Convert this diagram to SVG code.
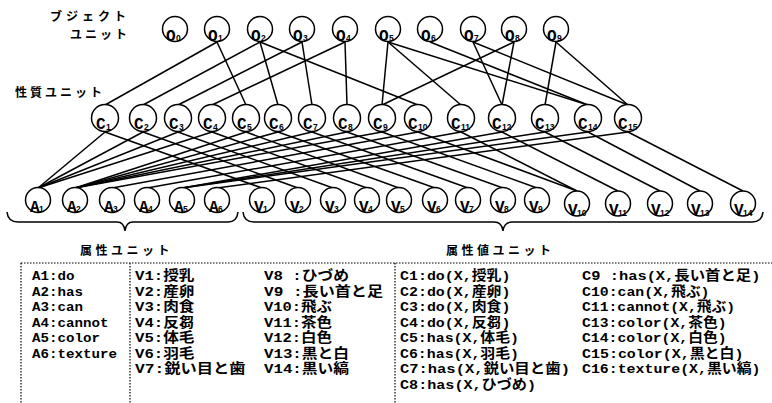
<svg xmlns="http://www.w3.org/2000/svg" width="772" height="403" viewBox="0 0 772 403">
<style>
.n circle{fill:#fff;stroke:#000;stroke-width:1.5}
.lb{font-family:"Liberation Mono",monospace;font-weight:bold;font-size:16px;fill:#000}
.sb{font-family:"Liberation Sans",sans-serif;font-weight:bold;font-size:8.5px;fill:#000}
.e line{stroke:#000;stroke-width:1.5}
.hd{font-family:"Noto Sans CJK JP",sans-serif;font-weight:bold;font-size:12px;fill:#000}
.br{fill:none;stroke:#000;stroke-width:1.5}
.dt{stroke:#000;stroke-width:1.2;stroke-dasharray:1.5 1.5;fill:none}
.tx{font-family:"Liberation Mono","Noto Sans CJK JP",monospace;font-weight:bold;font-size:13.5px;fill:#000}
</style>

<g id="labels">
<text class="hd" x="130" y="21" text-anchor="end" letter-spacing="4">ブジェクト</text>
<text class="hd" x="130" y="39" text-anchor="end" letter-spacing="3">ユニット</text>
<text class="hd" x="15" y="97" font-size="13" letter-spacing="3">性質ユニット</text>
<text class="hd" x="80" y="255" font-size="14" letter-spacing="3.5">属性ユニット</text>
<text class="hd" x="446" y="255" font-size="14" letter-spacing="3.5">属性値ユニット</text>
</g>

<g id="connectors" class="e">
<line x1="217" y1="42" x2="105" y2="105"/>
<line x1="217" y1="42" x2="246" y2="105"/>
<line x1="260" y1="42" x2="143" y2="105"/>
<line x1="260" y1="42" x2="278" y2="105"/>
<line x1="260" y1="42" x2="418" y2="105"/>
<line x1="302" y1="42" x2="178" y2="105"/>
<line x1="302" y1="42" x2="312" y2="105"/>
<line x1="345" y1="42" x2="212" y2="105"/>
<line x1="345" y1="42" x2="347" y2="105"/>
<line x1="388" y1="42" x2="382" y2="105"/>
<line x1="388" y1="42" x2="461" y2="105"/>
<line x1="388" y1="42" x2="588" y2="105"/>
<line x1="430" y1="42" x2="588" y2="105"/>
<line x1="473" y1="42" x2="502" y2="105"/>
<line x1="473" y1="42" x2="628" y2="105"/>
<line x1="514" y1="42" x2="382" y2="105"/>
<line x1="514" y1="42" x2="502" y2="105"/>
<line x1="556" y1="42" x2="545" y2="105"/>
<line x1="556" y1="42" x2="628" y2="105"/>
<line x1="105" y1="132" x2="38" y2="188"/>
<line x1="143" y1="132" x2="38" y2="188"/>
<line x1="178" y1="132" x2="38" y2="188"/>
<line x1="212" y1="132" x2="38" y2="188"/>
<line x1="246" y1="132" x2="75" y2="188"/>
<line x1="278" y1="132" x2="75" y2="188"/>
<line x1="312" y1="132" x2="75" y2="188"/>
<line x1="347" y1="132" x2="75" y2="188"/>
<line x1="382" y1="132" x2="75" y2="188"/>
<line x1="418" y1="132" x2="112" y2="188"/>
<line x1="461" y1="132" x2="147" y2="188"/>
<line x1="502" y1="132" x2="182" y2="188"/>
<line x1="545" y1="132" x2="182" y2="188"/>
<line x1="588" y1="132" x2="182" y2="188"/>
<line x1="628" y1="132" x2="217" y2="188"/>
<line x1="105" y1="132" x2="262" y2="188"/>
<line x1="143" y1="132" x2="298" y2="188"/>
<line x1="178" y1="132" x2="333" y2="188"/>
<line x1="212" y1="132" x2="367" y2="188"/>
<line x1="246" y1="132" x2="399" y2="188"/>
<line x1="278" y1="132" x2="435" y2="188"/>
<line x1="312" y1="132" x2="468" y2="188"/>
<line x1="347" y1="132" x2="503" y2="188"/>
<line x1="382" y1="132" x2="537" y2="188"/>
<line x1="418" y1="132" x2="577" y2="191"/>
<line x1="461" y1="132" x2="577" y2="191"/>
<line x1="502" y1="132" x2="618" y2="191"/>
<line x1="545" y1="132" x2="660" y2="191"/>
<line x1="588" y1="132" x2="700" y2="191"/>
<line x1="628" y1="132" x2="743" y2="191"/>
</g>

<g class="n">
<g id="O0"><circle cx="175" cy="29" r="12.5"/><text class="lb" x="166" y="41">O</text><text class="sb" x="176" y="41">0</text></g>
<g id="O1"><circle cx="217" cy="29" r="12.5"/><text class="lb" x="208" y="41">O</text><text class="sb" x="218" y="41">1</text></g>
<g id="O2"><circle cx="260" cy="29" r="12.5"/><text class="lb" x="251" y="41">O</text><text class="sb" x="261" y="41">2</text></g>
<g id="O3"><circle cx="302" cy="29" r="12.5"/><text class="lb" x="293" y="41">O</text><text class="sb" x="303" y="41">3</text></g>
<g id="O4"><circle cx="345" cy="29" r="12.5"/><text class="lb" x="336" y="41">O</text><text class="sb" x="346" y="41">4</text></g>
<g id="O5"><circle cx="388" cy="29" r="12.5"/><text class="lb" x="379" y="41">O</text><text class="sb" x="389" y="41">5</text></g>
<g id="O6"><circle cx="430" cy="29" r="12.5"/><text class="lb" x="421" y="41">O</text><text class="sb" x="431" y="41">6</text></g>
<g id="O7"><circle cx="473" cy="29" r="12.5"/><text class="lb" x="464" y="41">O</text><text class="sb" x="474" y="41">7</text></g>
<g id="O8"><circle cx="514" cy="29" r="12.5"/><text class="lb" x="505" y="41">O</text><text class="sb" x="515" y="41">8</text></g>
<g id="O9"><circle cx="556" cy="29" r="12.5"/><text class="lb" x="547" y="41">O</text><text class="sb" x="557" y="41">9</text></g>

<g id="C1"><circle cx="105" cy="118" r="13.5"/><text class="lb" x="96" y="129">C</text><text class="sb" x="106" y="130">1</text></g>
<g id="C2"><circle cx="143" cy="118" r="13.5"/><text class="lb" x="134" y="129">C</text><text class="sb" x="144" y="130">2</text></g>
<g id="C3"><circle cx="178" cy="118" r="13.5"/><text class="lb" x="169" y="129">C</text><text class="sb" x="179" y="130">3</text></g>
<g id="C4"><circle cx="212" cy="118" r="13.5"/><text class="lb" x="203" y="129">C</text><text class="sb" x="213" y="130">4</text></g>
<g id="C5"><circle cx="246" cy="118" r="13.5"/><text class="lb" x="237" y="129">C</text><text class="sb" x="247" y="130">5</text></g>
<g id="C6"><circle cx="278" cy="118" r="13.5"/><text class="lb" x="269" y="129">C</text><text class="sb" x="279" y="130">6</text></g>
<g id="C7"><circle cx="312" cy="118" r="13.5"/><text class="lb" x="303" y="129">C</text><text class="sb" x="313" y="130">7</text></g>
<g id="C8"><circle cx="347" cy="118" r="13.5"/><text class="lb" x="338" y="129">C</text><text class="sb" x="348" y="130">8</text></g>
<g id="C9"><circle cx="382" cy="118" r="13.5"/><text class="lb" x="373" y="129">C</text><text class="sb" x="383" y="130">9</text></g>
<g id="C10"><circle cx="418" cy="118" r="13.5"/><text class="lb" x="408" y="129">C</text><text class="sb" x="418" y="130">10</text></g>
<g id="C11"><circle cx="461" cy="118" r="13.5"/><text class="lb" x="451" y="129">C</text><text class="sb" x="461" y="130">11</text></g>
<g id="C12"><circle cx="502" cy="118" r="13.5"/><text class="lb" x="492" y="129">C</text><text class="sb" x="502" y="130">12</text></g>
<g id="C13"><circle cx="545" cy="118" r="13.5"/><text class="lb" x="535" y="129">C</text><text class="sb" x="545" y="130">13</text></g>
<g id="C14"><circle cx="588" cy="118" r="13.5"/><text class="lb" x="578" y="129">C</text><text class="sb" x="588" y="130">14</text></g>
<g id="C15"><circle cx="628" cy="118" r="13.5"/><text class="lb" x="618" y="129">C</text><text class="sb" x="628" y="130">15</text></g>

<g id="A1"><circle cx="38" cy="200" r="12.5"/><text class="lb" x="30" y="212">A</text><text class="sb" x="39" y="212">1</text></g>
<g id="A2"><circle cx="75" cy="200" r="12.5"/><text class="lb" x="67" y="212">A</text><text class="sb" x="76" y="212">2</text></g>
<g id="A3"><circle cx="112" cy="200" r="12.5"/><text class="lb" x="104" y="212">A</text><text class="sb" x="113" y="212">3</text></g>
<g id="A4"><circle cx="147" cy="200" r="12.5"/><text class="lb" x="139" y="212">A</text><text class="sb" x="148" y="212">4</text></g>
<g id="A5"><circle cx="182" cy="200" r="12.5"/><text class="lb" x="174" y="212">A</text><text class="sb" x="183" y="212">5</text></g>
<g id="A6"><circle cx="217" cy="200" r="12.5"/><text class="lb" x="209" y="212">A</text><text class="sb" x="218" y="212">6</text></g>

<g id="V1"><circle cx="262" cy="200" r="12.5"/><text class="lb" x="254" y="212">V</text><text class="sb" x="263" y="212">1</text></g>
<g id="V2"><circle cx="298" cy="200" r="12.5"/><text class="lb" x="290" y="212">V</text><text class="sb" x="299" y="212">2</text></g>
<g id="V3"><circle cx="333" cy="200" r="12.5"/><text class="lb" x="325" y="212">V</text><text class="sb" x="334" y="212">3</text></g>
<g id="V4"><circle cx="367" cy="200" r="12.5"/><text class="lb" x="359" y="212">V</text><text class="sb" x="368" y="212">4</text></g>
<g id="V5"><circle cx="399" cy="200" r="12.5"/><text class="lb" x="391" y="212">V</text><text class="sb" x="400" y="212">5</text></g>
<g id="V6"><circle cx="435" cy="200" r="12.5"/><text class="lb" x="427" y="212">V</text><text class="sb" x="436" y="212">6</text></g>
<g id="V7"><circle cx="468" cy="200" r="12.5"/><text class="lb" x="460" y="212">V</text><text class="sb" x="469" y="212">7</text></g>
<g id="V8"><circle cx="503" cy="200" r="12.5"/><text class="lb" x="495" y="212">V</text><text class="sb" x="504" y="212">8</text></g>
<g id="V9"><circle cx="537" cy="200" r="12.5"/><text class="lb" x="529" y="212">V</text><text class="sb" x="538" y="212">9</text></g>
<g id="V10"><circle cx="577" cy="203.5" r="12.5"/><text class="lb" x="568" y="215">V</text><text class="sb" x="577" y="216">10</text></g>
<g id="V11"><circle cx="618" cy="203.5" r="12.5"/><text class="lb" x="609" y="215">V</text><text class="sb" x="618" y="216">11</text></g>
<g id="V12"><circle cx="660" cy="203.5" r="12.5"/><text class="lb" x="651" y="215">V</text><text class="sb" x="660" y="216">12</text></g>
<g id="V13"><circle cx="700" cy="203.5" r="12.5"/><text class="lb" x="691" y="215">V</text><text class="sb" x="700" y="216">13</text></g>
<g id="V14"><circle cx="743" cy="203.5" r="12.5"/><text class="lb" x="734" y="215">V</text><text class="sb" x="743" y="216">14</text></g>
</g>

<g id="braces">
<path class="br" d="M7,212 Q8,222 18,222 L117,222 Q124,222 125,231 Q126,222 133,222 L228,222 Q237,222 238,212"/>
<path class="br" d="M243,212 Q244,222 254,222 L494,222 Q502,222 503,231 Q504,222 512,222 L752,222 Q762,222 763,212"/>
</g>

<g id="table">
<path class="dt" d="M21,263 H772 M21,263 V403 M130,263 V403 M395,263 V403"/>
<text class="tx" x="32" y="280" textLength="42.5" lengthAdjust="spacingAndGlyphs">A1:do</text>
<text class="tx" x="32" y="295.5" textLength="51" lengthAdjust="spacingAndGlyphs">A2:has</text>
<text class="tx" x="32" y="311" textLength="51" lengthAdjust="spacingAndGlyphs">A3:can</text>
<text class="tx" x="32" y="326.5" textLength="76.5" lengthAdjust="spacingAndGlyphs">A4:cannot</text>
<text class="tx" x="32" y="342" textLength="68" lengthAdjust="spacingAndGlyphs">A5:color</text>
<text class="tx" x="32" y="357.5" textLength="85" lengthAdjust="spacingAndGlyphs">A6:texture</text>

<text class="tx" x="135" y="280" textLength="59.5" lengthAdjust="spacingAndGlyphs">V1:授乳</text>
<text class="tx" x="135" y="295.5" textLength="59.5" lengthAdjust="spacingAndGlyphs">V2:産卵</text>
<text class="tx" x="135" y="311" textLength="59.5" lengthAdjust="spacingAndGlyphs">V3:肉食</text>
<text class="tx" x="135" y="326.5" textLength="59.5" lengthAdjust="spacingAndGlyphs">V4:反芻</text>
<text class="tx" x="135" y="342" textLength="59.5" lengthAdjust="spacingAndGlyphs">V5:体毛</text>
<text class="tx" x="135" y="357.5" textLength="59.5" lengthAdjust="spacingAndGlyphs">V6:羽毛</text>
<text class="tx" x="135" y="373" textLength="110.5" lengthAdjust="spacingAndGlyphs">V7:鋭い目と歯</text>

<text class="tx" x="264" y="280" textLength="85" lengthAdjust="spacingAndGlyphs">V8 :ひづめ</text>
<text class="tx" x="264" y="295.5" textLength="119" lengthAdjust="spacingAndGlyphs">V9 :長い首と足</text>
<text class="tx" x="264" y="311" textLength="68" lengthAdjust="spacingAndGlyphs">V10:飛ぶ</text>
<text class="tx" x="264" y="326.5" textLength="68" lengthAdjust="spacingAndGlyphs">V11:茶色</text>
<text class="tx" x="264" y="342" textLength="68" lengthAdjust="spacingAndGlyphs">V12:白色</text>
<text class="tx" x="264" y="357.5" textLength="85" lengthAdjust="spacingAndGlyphs">V13:黒と白</text>
<text class="tx" x="264" y="373" textLength="85" lengthAdjust="spacingAndGlyphs">V14:黒い縞</text>

<text class="tx" x="400" y="280" textLength="110.5" lengthAdjust="spacingAndGlyphs">C1:do(X,授乳)</text>
<text class="tx" x="400" y="295.5" textLength="110.5" lengthAdjust="spacingAndGlyphs">C2:do(X,産卵)</text>
<text class="tx" x="400" y="311" textLength="110.5" lengthAdjust="spacingAndGlyphs">C3:do(X,肉食)</text>
<text class="tx" x="400" y="326.5" textLength="110.5" lengthAdjust="spacingAndGlyphs">C4:do(X,反芻)</text>
<text class="tx" x="400" y="342" textLength="119" lengthAdjust="spacingAndGlyphs">C5:has(X,体毛)</text>
<text class="tx" x="400" y="357.5" textLength="119" lengthAdjust="spacingAndGlyphs">C6:has(X,羽毛)</text>
<text class="tx" x="400" y="373" textLength="170" lengthAdjust="spacingAndGlyphs">C7:has(X,鋭い目と歯)</text>
<text class="tx" x="400" y="388.5" textLength="136" lengthAdjust="spacingAndGlyphs">C8:has(X,ひづめ)</text>

<text class="tx" x="582" y="280" textLength="178.5" lengthAdjust="spacingAndGlyphs">C9 :has(X,長い首と足)</text>
<text class="tx" x="582" y="295.5" textLength="127.5" lengthAdjust="spacingAndGlyphs">C10:can(X,飛ぶ)</text>
<text class="tx" x="582" y="311" textLength="153" lengthAdjust="spacingAndGlyphs">C11:cannot(X,飛ぶ)</text>
<text class="tx" x="582" y="326.5" textLength="144.5" lengthAdjust="spacingAndGlyphs">C13:color(X,茶色)</text>
<text class="tx" x="582" y="342" textLength="144.5" lengthAdjust="spacingAndGlyphs">C14:color(X,白色)</text>
<text class="tx" x="582" y="357.5" textLength="161.5" lengthAdjust="spacingAndGlyphs">C15:color(X,黒と白)</text>
<text class="tx" x="582" y="373" textLength="178.5" lengthAdjust="spacingAndGlyphs">C16:texture(X,黒い縞)</text>
</g>
</svg>
